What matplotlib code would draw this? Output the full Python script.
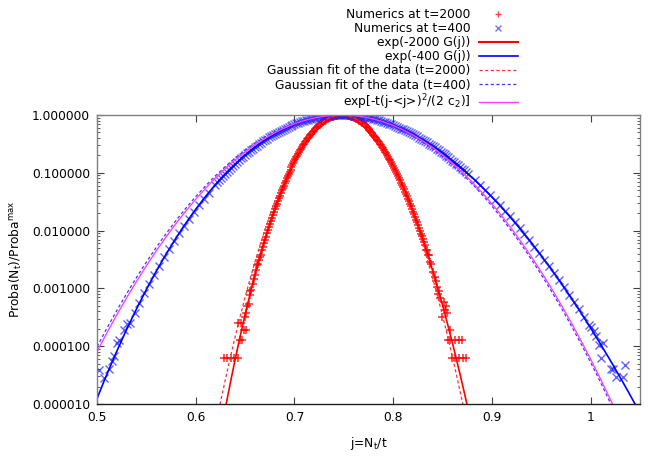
import numpy as np
import matplotlib
matplotlib.use('Agg')
import matplotlib.pyplot as plt
from matplotlib.ticker import LogLocator, NullFormatter
from matplotlib.lines import Line2D

plt.rcParams['font.family'] = ['DejaVu Sans']
plt.rcParams['mathtext.fontset'] = 'dejavusans'

# ---------------- data (log10 of normalised probability) -------------
# Numerics at t=2000 (red +)
red_j = [0.6285, 0.632, 0.6355, 0.639, 0.6425, 0.6445, 0.6465, 0.6485, 0.6505, 0.6425, 0.6455,
         0.651, 0.6495, 0.6515, 0.6535, 0.6545, 0.655,
         0.656, 0.658, 0.660, 0.662, 0.664, 0.666, 0.668, 0.670, 0.672, 0.674, 0.676, 0.678,
         0.680, 0.682, 0.684, 0.686, 0.688, 0.690, 0.692, 0.694, 0.696, 0.698, 0.700, 0.702,
         0.704, 0.706, 0.708, 0.710, 0.712, 0.714, 0.716, 0.718, 0.720, 0.722, 0.724, 0.726,
         0.728, 0.730, 0.732, 0.734, 0.736, 0.738, 0.740, 0.742, 0.744, 0.746, 0.748, 0.750,
         0.752, 0.754, 0.756, 0.758, 0.760, 0.762, 0.764, 0.766, 0.768, 0.770, 0.772, 0.774,
         0.776, 0.778, 0.780, 0.782, 0.784, 0.786, 0.788, 0.790, 0.792, 0.794, 0.796, 0.798,
         0.800, 0.802, 0.804, 0.806, 0.808, 0.810, 0.812, 0.814, 0.816, 0.818, 0.820, 0.822,
         0.824, 0.826, 0.828, 0.830, 0.832, 0.834, 0.836, 0.838, 0.840, 0.842,
         0.8435, 0.8445, 0.845, 0.8465, 0.8475, 0.849, 0.851, 0.8525, 0.8535, 0.8545, 0.8578,
         0.8555, 0.858, 0.8625, 0.8665, 0.8695, 0.860, 0.863, 0.8665, 0.8705, 0.874]
red_logp = [-4.20, -4.20, -4.20, -4.20, -4.20, -3.90, -3.90, -3.72, -3.72, -3.60, -3.60,
            -3.42, -3.50, -3.30, -3.27, -3.12, -3.05,
            -3.03, -2.93, -2.77, -2.60, -2.51, -2.42, -2.28, -2.16, -2.05, -1.94, -1.833, -1.730,
            -1.630, -1.534, -1.440, -1.350, -1.263, -1.178, -1.097, -1.019, -0.943, -0.871, -0.802, -0.735,
            -0.672, -0.611, -0.554, -0.499, -0.447, -0.399, -0.353, -0.310, -0.269, -0.232, -0.197, -0.166,
            -0.137, -0.111, -0.087, -0.067, -0.049, -0.034, -0.022, -0.012, -0.005, -0.001, 0.0, -0.001,
            -0.005, -0.012, -0.022, -0.034, -0.048, -0.066, -0.085, -0.108, -0.133, -0.161, -0.191, -0.224,
            -0.260, -0.298, -0.338, -0.381, -0.427, -0.475, -0.526, -0.579, -0.635, -0.693, -0.754, -0.817,
            -0.882, -0.950, -1.021, -1.094, -1.169, -1.247, -1.326, -1.409, -1.493, -1.580, -1.670, -1.762,
            -1.856, -1.953, -2.052, -2.153, -2.256, -2.34, -2.43, -2.57, -2.72, -2.80,
            -2.88, -2.98, -3.10, -3.05, -3.17, -3.49, -3.23, -3.37, -3.30, -3.42, -3.72,
            -3.90, -3.90, -3.90, -3.90, -3.90, -4.20, -4.20, -4.20, -4.20, -4.20]
# t=2000 numerics at the intermediate (odd thousandth) values of j
red_j_odd = [0.659, 0.661, 0.663, 0.665, 0.667, 0.669, 0.671, 0.673, 0.675, 0.677, 0.679, 0.681,
             0.683, 0.685, 0.687, 0.689, 0.691, 0.693, 0.695, 0.697, 0.699, 0.701, 0.703, 0.705,
             0.707, 0.709, 0.711, 0.713, 0.715, 0.717, 0.719, 0.721, 0.723, 0.725, 0.727, 0.729,
             0.731, 0.733, 0.735, 0.737, 0.739, 0.741, 0.743, 0.745, 0.747, 0.749, 0.751, 0.753,
             0.755, 0.757, 0.759, 0.761, 0.763, 0.765, 0.767, 0.769, 0.771, 0.773, 0.775, 0.777,
             0.779, 0.781, 0.783, 0.785, 0.787, 0.789, 0.791, 0.793, 0.795, 0.797, 0.799, 0.801,
             0.803, 0.805, 0.807, 0.809, 0.811, 0.813, 0.815, 0.817, 0.819, 0.821, 0.823, 0.825,
             0.827, 0.829, 0.831, 0.833, 0.835, 0.837]
red_logp_odd = [-2.832, -2.68, -2.576, -2.453, -2.333, -2.217, -2.103, -1.992, -1.885, -1.781, -1.680, -1.582,
                -1.487, -1.395, -1.306, -1.220, -1.137, -1.057, -0.981, -0.907, -0.836, -0.768, -0.703, -0.641,
                -0.582, -0.526, -0.473, -0.423, -0.375, -0.331, -0.289, -0.250, -0.214, -0.181, -0.151, -0.123,
                -0.099, -0.077, -0.058, -0.041, -0.028, -0.017, -0.009, -0.003, -0.0003, -0.0003, -0.003, -0.008,
                -0.017, -0.027, -0.041, -0.057, -0.075, -0.096, -0.120, -0.147, -0.176, -0.207, -0.242, -0.278,
                -0.318, -0.360, -0.404, -0.451, -0.500, -0.552, -0.607, -0.664, -0.723, -0.785, -0.849, -0.916,
                -0.985, -1.057, -1.131, -1.207, -1.286, -1.367, -1.451, -1.537, -1.625, -1.716, -1.809, -1.904,
                -2.002, -2.102, -2.204, -2.33, -2.416, -2.55]

# Numerics at t=400 (blue x)
blue_j = [0.5025, 0.5075, 0.5125, 0.515, 0.5175, 0.520, 0.5225, 0.5275, 0.530, 0.533, 0.538, 0.543,
          0.548, 0.553, 0.558, 0.563, 0.568, 0.573, 0.578, 0.583, 0.588, 0.593, 0.598, 0.603, 0.608, 0.613,
          0.620, 0.624, 0.628, 0.632, 0.636, 0.640, 0.644, 0.648, 0.652, 0.656, 0.660, 0.664, 0.668,
          0.672, 0.676, 0.680, 0.684, 0.688, 0.692, 0.696, 0.700, 0.704, 0.708, 0.712, 0.716, 0.720,
          0.724, 0.728, 0.732, 0.736, 0.740, 0.744, 0.748, 0.752, 0.756, 0.760, 0.764, 0.768, 0.772,
          0.776, 0.780, 0.784, 0.788, 0.792, 0.796, 0.800, 0.804, 0.808, 0.812, 0.816, 0.820, 0.824,
          0.828, 0.832, 0.836, 0.840, 0.844, 0.848, 0.852, 0.856, 0.860, 0.864, 0.868, 0.872, 0.876,
          0.883, 0.888, 0.893, 0.898, 0.903, 0.908, 0.913, 0.918, 0.923, 0.928, 0.933, 0.938, 0.943,
          0.948, 0.953, 0.958, 0.963, 0.968, 0.973, 0.978, 0.983, 0.988, 0.993, 0.998,
          1.0005, 1.003, 1.0055, 1.008, 1.0105, 1.013, 1.0205, 1.023, 1.0255, 1.0325, 1.035]
blue_logp = [-4.42, -4.55, -4.39, -4.25, -4.17, -3.95, -3.90, -3.72, -3.62, -3.60, -3.42, -3.25,
             -3.085, -2.923, -2.765, -2.613, -2.465, -2.322, -2.183, -2.050, -1.921, -1.797, -1.677, -1.562, -1.451, -1.344,
             -1.203, -1.126, -1.051, -0.980, -0.911, -0.845, -0.781, -0.720, -0.662, -0.607, -0.553, -0.503, -0.455,
             -0.410, -0.367, -0.326, -0.288, -0.253, -0.219, -0.189, -0.160, -0.134, -0.111, -0.090, -0.071, -0.054,
             -0.040, -0.027, -0.017, -0.010, -0.004, -0.001, 0.0, -0.001, -0.004, -0.010, -0.017, -0.027, -0.038,
             -0.052, -0.068, -0.085, -0.105, -0.127, -0.151, -0.176, -0.204, -0.234, -0.265, -0.299, -0.334, -0.371,
             -0.410, -0.451, -0.494, -0.539, -0.585, -0.633, -0.683, -0.735, -0.789, -0.844, -0.901, -0.960, -1.020,
             -1.130, -1.212, -1.296, -1.383, -1.472, -1.564, -1.659, -1.756, -1.855, -1.957, -2.061, -2.168, -2.277,
             -2.389, -2.503, -2.619, -2.737, -2.858, -2.981, -3.107, -3.234, -3.364, -3.497, -3.631,
             -3.66, -3.74, -3.82, -3.98, -4.20, -3.95, -4.40, -4.40, -4.54, -4.53, -4.33]
# t=400 numerics at the intermediate values of j
blue_j_mid = [0.622, 0.626, 0.630, 0.634, 0.638, 0.642, 0.646, 0.650, 0.654, 0.658, 0.662, 0.666,
              0.670, 0.674, 0.678, 0.682, 0.686, 0.690, 0.694, 0.698, 0.702, 0.706, 0.710, 0.714,
              0.718, 0.722, 0.726, 0.730, 0.734, 0.738, 0.742, 0.746, 0.750, 0.754, 0.758, 0.762,
              0.766, 0.770, 0.774, 0.778, 0.782, 0.786, 0.790, 0.794, 0.798, 0.802, 0.806, 0.810,
              0.814, 0.818, 0.822, 0.826, 0.830, 0.834, 0.838, 0.842, 0.846, 0.850, 0.854, 0.858,
              0.862, 0.866, 0.870, 0.874]
blue_logp_mid = [-1.164, -1.088, -1.015, -0.945, -0.878, -0.813, -0.751, -0.691, -0.634, -0.580, -0.528, -0.479,
                 -0.432, -0.388, -0.346, -0.307, -0.270, -0.236, -0.204, -0.174, -0.147, -0.122, -0.100, -0.080,
                 -0.062, -0.046, -0.033, -0.022, -0.013, -0.007, -0.002, -0.0003, -0.0003, -0.002, -0.007, -0.013,
                 -0.022, -0.032, -0.045, -0.060, -0.076, -0.095, -0.116, -0.139, -0.163, -0.190, -0.219, -0.249,
                 -0.282, -0.316, -0.352, -0.391, -0.431, -0.472, -0.516, -0.562, -0.609, -0.658, -0.709, -0.762,
                 -0.816, -0.872, -0.930, -0.990]

# exp(-2000 G(j))
th2000_j = [0.624, 0.628, 0.632, 0.636, 0.640, 0.644, 0.648, 0.652, 0.656, 0.660, 0.664, 0.668,
            0.672, 0.676, 0.680, 0.684, 0.688, 0.692, 0.696, 0.700, 0.704, 0.708, 0.712, 0.716,
            0.720, 0.724, 0.728, 0.732, 0.736, 0.740, 0.744, 0.748, 0.752, 0.756, 0.760, 0.764,
            0.768, 0.772, 0.776, 0.780, 0.784, 0.788, 0.792, 0.796, 0.800, 0.804, 0.808, 0.812,
            0.816, 0.820, 0.824, 0.828, 0.832, 0.836, 0.840, 0.844, 0.848, 0.852, 0.856, 0.860,
            0.864, 0.868, 0.872, 0.876, 0.880]
th2000_logp = [-5.629, -5.257, -4.899, -4.555, -4.224, -3.906, -3.602, -3.311, -3.032, -2.767, -2.514, -2.275,
               -2.047, -1.833, -1.630, -1.440, -1.263, -1.097, -0.943, -0.802, -0.672, -0.554, -0.447, -0.353,
               -0.269, -0.197, -0.137, -0.087, -0.049, -0.022, -0.005, 0.0, -0.005, -0.022, -0.048, -0.085,
               -0.133, -0.191, -0.260, -0.338, -0.427, -0.526, -0.635, -0.754, -0.882, -1.021, -1.169, -1.326,
               -1.493, -1.670, -1.856, -2.052, -2.256, -2.470, -2.693, -2.926, -3.167, -3.417, -3.676, -3.944,
               -4.220, -4.505, -4.799, -5.101, -5.412]

# exp(-400 G(j))
th400_j = [0.498, 0.508, 0.518, 0.528, 0.538, 0.548, 0.558, 0.568, 0.578, 0.588, 0.598, 0.608, 0.618,
           0.628, 0.638, 0.648, 0.658, 0.668, 0.678, 0.688, 0.698, 0.708, 0.718, 0.728, 0.738, 0.748,
           0.758, 0.768, 0.778, 0.788, 0.798, 0.808, 0.818, 0.828, 0.838, 0.848, 0.858, 0.868, 0.878,
           0.888, 0.898, 0.908, 0.918, 0.928, 0.938, 0.948, 0.958, 0.968, 0.978, 0.988, 0.998, 1.008,
           1.018, 1.028, 1.038, 1.048, 1.058]
th400_logp = [-4.991, -4.568, -4.166, -3.785, -3.425, -3.085, -2.765, -2.465, -2.183, -1.921, -1.677, -1.451, -1.242,
              -1.051, -0.878, -0.720, -0.580, -0.455, -0.346, -0.2525, -0.1742, -0.1108, -0.0619, -0.0273, -0.0068, 0.0,
              -0.0067, -0.0266, -0.0595, -0.1052, -0.1633, -0.2337, -0.3161, -0.4103, -0.5162, -0.6333, -0.7617, -0.9010, -1.0511,
              -1.2118, -1.3830, -1.5643, -1.7557, -1.9570, -2.1681, -2.3887, -2.6188, -2.8582, -3.1068, -3.3644, -3.6309, -3.9063,
              -4.1903, -4.4829, -4.7840, -5.0935, -5.4113]

# Gaussian fit of the data (t=2000)
gfit2000_j = [0.620, 0.625, 0.630, 0.635, 0.640, 0.645, 0.650, 0.655, 0.660, 0.665, 0.670, 0.675,
              0.680, 0.685, 0.690, 0.695, 0.700, 0.705, 0.710, 0.715, 0.720, 0.725, 0.730, 0.735,
              0.740, 0.745, 0.750, 0.755, 0.760, 0.765, 0.770, 0.775, 0.780, 0.785, 0.790, 0.795,
              0.800, 0.805, 0.810, 0.815, 0.820, 0.825, 0.830, 0.835, 0.840, 0.845, 0.850, 0.855,
              0.860, 0.865, 0.870, 0.875]
gfit2000_logp = [-5.389, -4.975, -4.578, -4.197, -3.832, -3.484, -3.153, -2.838, -2.540, -2.258, -1.993, -1.745,
                 -1.513, -1.297, -1.098, -0.916, -0.750, -0.601, -0.468, -0.352, -0.252, -0.169, -0.1025, -0.0526,
                 -0.0191, -0.0022, -0.0019, -0.0181, -0.0509, -0.1002, -0.1661, -0.2485, -0.3475, -0.463, -0.595, -0.744,
                 -0.909, -1.091, -1.289, -1.504, -1.735, -1.983, -2.247, -2.528, -2.826, -3.140, -3.471, -3.818,
                 -4.182, -4.562, -4.959, -5.372]

# common abscissae for t=400 Gaussian curves
g400_j = [0.50, 0.51, 0.52, 0.53, 0.54, 0.55, 0.56, 0.57, 0.58, 0.59, 0.60, 0.61, 0.62, 0.63,
          0.64, 0.65, 0.66, 0.67, 0.68, 0.69, 0.70, 0.71, 0.72, 0.73, 0.74, 0.75, 0.76, 0.77,
          0.78, 0.79, 0.80, 0.81, 0.82, 0.83, 0.84, 0.85, 0.86, 0.87, 0.88, 0.89, 0.90, 0.91,
          0.92, 0.93, 0.94, 0.95, 0.96, 0.97, 0.98, 0.99, 1.00, 1.01, 1.02, 1.03]
# Gaussian fit of the data (t=400)
gfit400_logp = [-4.010, -3.690, -3.384, -3.091, -2.811, -2.545, -2.292, -2.052, -1.825, -1.612, -1.412, -1.225, -1.051, -0.891,
                -0.744, -0.610, -0.489, -0.382, -0.288, -0.207, -0.140, -0.0855, -0.0445, -0.0168, -0.0023, -0.0011, -0.0132, -0.0385,
                -0.0771, -0.129, -0.194, -0.272, -0.364, -0.469, -0.587, -0.719, -0.863, -1.021, -1.192, -1.377, -1.575, -1.786,
                -2.010, -2.247, -2.498, -2.762, -3.040, -3.330, -3.634, -3.951, -4.281, -4.625, -4.982, -5.352]
# exp[-t(j-<j>)^2/(2 c2)]
gth400_logp = [-4.093, -3.770, -3.460, -3.163, -2.879, -2.609, -2.352, -2.109, -1.878, -1.661, -1.458, -1.267, -1.090, -0.927,
               -0.776, -0.639, -0.515, -0.405, -0.308, -0.224, -0.153, -0.0961, -0.0522, -0.0216, -0.0043, -0.0003, -0.0096, -0.0322,
               -0.0681, -0.117, -0.180, -0.256, -0.345, -0.447, -0.563, -0.692, -0.835, -0.991, -1.160, -1.342, -1.538, -1.747,
               -1.969, -2.204, -2.453, -2.716, -2.991, -3.280, -3.582, -3.897, -4.226, -4.568, -4.924, -5.292]

x_ticks = [0.5, 0.6, 0.7, 0.8, 0.9, 1.0]
x_tick_labels = ['0.5', '0.6', '0.7', '0.8', '0.9', '1']
y_ticks = [1e-5, 1e-4, 1e-3, 1e-2, 1e-1, 1.0]
y_tick_labels = ['0.000010', '0.000100', '0.001000', '0.010000', '0.100000', '1.000000']

labels = ['Numerics at t=2000', 'Numerics at t=400', 'exp(-2000 G(j))', 'exp(-400 G(j))',
          'Gaussian fit of the data (t=2000)', 'Gaussian fit of the data (t=400)',
          r'exp[-t(j-<j>)$^2$/(2 c$_2$)]']

# ---------------- plotting ----------------
W, H = 664, 465
fig = plt.figure(figsize=(W / 100, H / 100), dpi=100)
L, R, T, B = 97, 640, 115, 404
ax = fig.add_axes([L / W, 1 - B / H, (R - L) / W, (B - T) / H])

def p(v):
    return 10.0 ** np.asarray(v)

FS = 8.8
RED = '#ff0000'
BLUE = '#0000ff'
RED_PT = dict(linestyle='none', marker='+', ms=5.5, mew=1.1, color=RED, alpha=0.85)
BLUE_PT = dict(linestyle='none', marker='x', ms=5.2, mew=1.0, color='#2020ff', alpha=0.7)

ax.plot(red_j + red_j_odd, p(red_logp + red_logp_odd), **RED_PT)
ax.plot(blue_j + blue_j_mid, p(blue_logp + blue_logp_mid), **BLUE_PT)
ax.plot(th2000_j, p(th2000_logp), color=RED, lw=1.2)
ax.plot(th400_j, p(th400_logp), color=BLUE, lw=1.2)
ax.plot(gfit2000_j, p(gfit2000_logp), color='#ff3030', lw=0.9, ls=(0, (2.5, 2.0)))
ax.plot(g400_j, p(gfit400_logp), color='#3a3aff', lw=0.9, ls=(0, (2.5, 2.0)))
ax.plot(g400_j, p(gth400_logp), color='#ff40ff', lw=1.0)

ax.set_yscale('log')
ax.set_xlim(0.5, 1.05)
ax.set_ylim(1e-5, 1.0)
ax.set_xticks(x_ticks)
ax.set_xticklabels(x_tick_labels, fontsize=FS)
ax.set_yticks(y_ticks)
ax.set_yticklabels(y_tick_labels, fontsize=FS)
ax.yaxis.set_minor_locator(LogLocator(base=10, subs=np.arange(2, 10)))
ax.yaxis.set_minor_formatter(NullFormatter())
ax.tick_params(which='major', direction='in', length=5, width=0.8, top=True, right=True,
               color='#404040', pad=5)
ax.tick_params(which='minor', direction='in', length=2.5, width=0.6, top=True, right=True,
               color='#404040')
for s in ['left', 'right', 'top']:
    ax.spines[s].set_color('#808080')
    ax.spines[s].set_linewidth(1.0)
ax.spines['bottom'].set_color('#202020')
ax.spines['bottom'].set_linewidth(1.0)

ax.set_xlabel(r'j=N$_{\mathrm{t}}$/t', fontsize=FS, labelpad=8)
ax.set_ylabel(r'Proba(N$_{\mathrm{t}}$)/Proba$^{\mathrm{max}}$', fontsize=FS, labelpad=6)

leg_handles = [
    Line2D([], [], linestyle='none', marker='+', ms=5, mew=1.0, color=RED, alpha=0.75),
    Line2D([], [], linestyle='none', marker='x', ms=4.5, mew=1.0, color='#2020ff', alpha=0.6),
    Line2D([], [], color=RED, lw=1.5),
    Line2D([], [], color=BLUE, lw=1.2),
    Line2D([], [], color='#ff3030', lw=0.9, ls=(0, (2.5, 2.0))),
    Line2D([], [], color='#3a3aff', lw=0.9, ls=(0, (2.5, 2.0))),
    Line2D([], [], color='#ff40ff', lw=1.0),
]
fig.legend(leg_handles, labels, loc='upper right', bbox_to_anchor=(518 / W, 1 - 8 / H),
           markerfirst=False, frameon=False, fontsize=FS, handlelength=3.2,
           handletextpad=0.7, labelspacing=0.09, borderaxespad=0, borderpad=0,
           numpoints=1)

fig.savefig('out.png', dpi=100)
